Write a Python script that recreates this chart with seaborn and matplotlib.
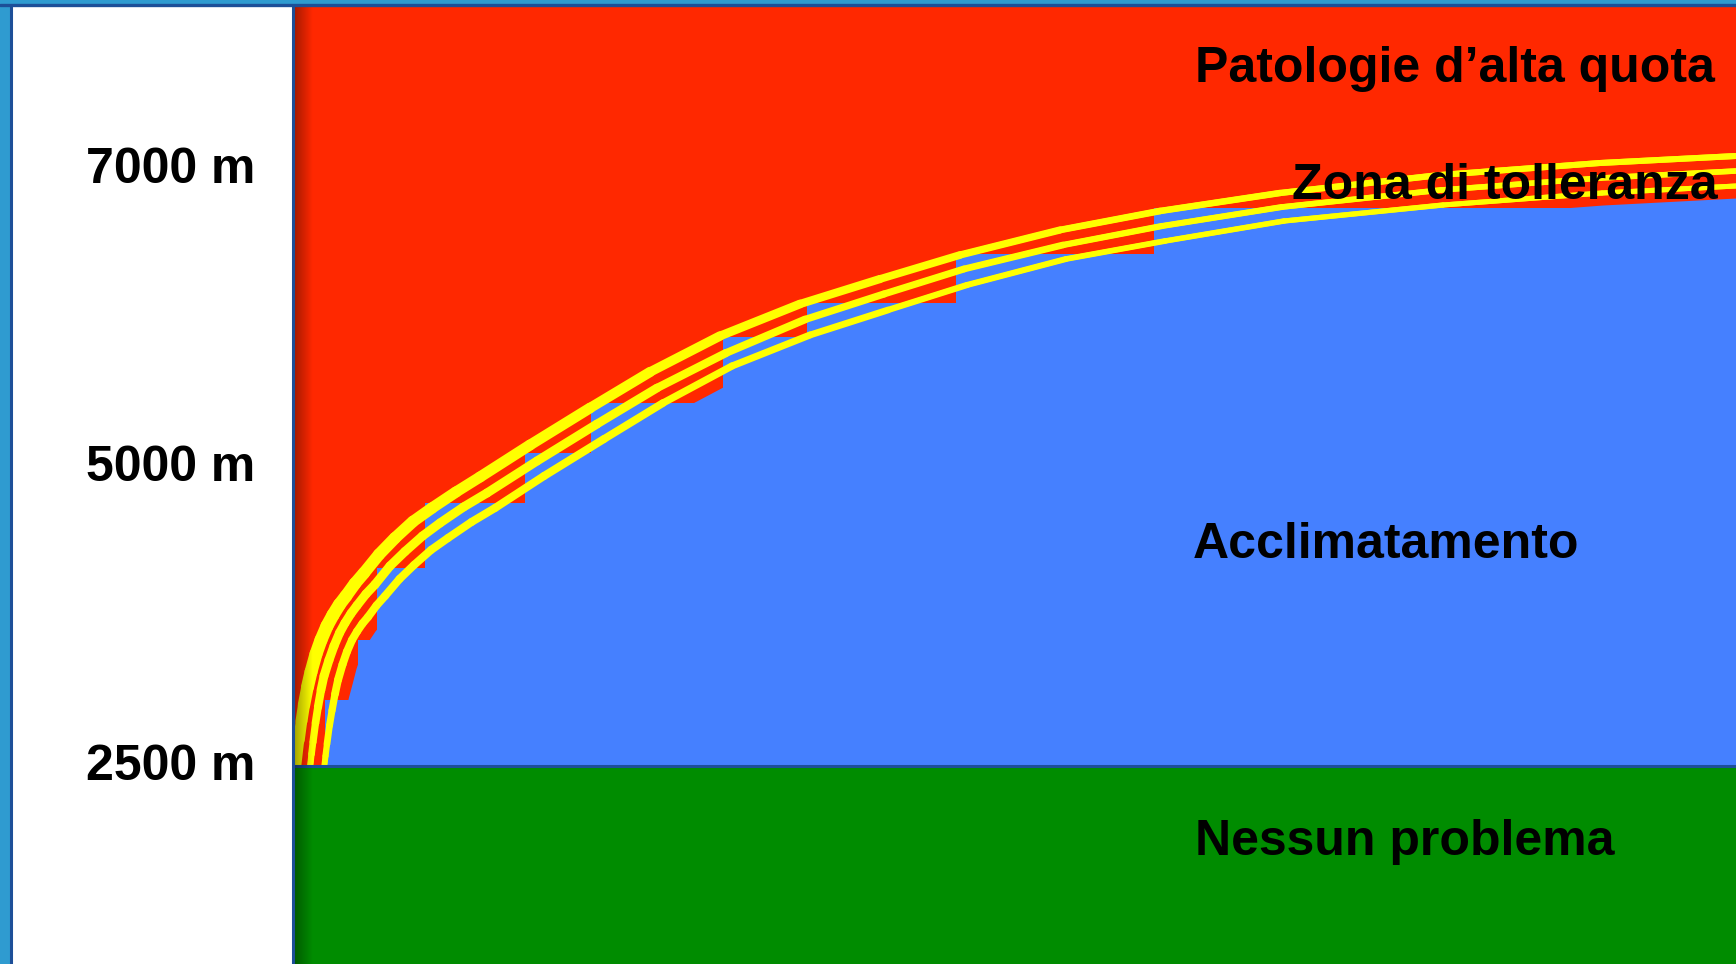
import numpy as np
import matplotlib
matplotlib.use("Agg")
import matplotlib.pyplot as plt
from matplotlib.patches import Rectangle
from matplotlib.lines import Line2D
from matplotlib.collections import LineCollection
import seaborn as sns

# Diagram units: horizontal = time spent at altitude, vertical = height above the 2500 m threshold
# Upper limit of the tolerance zone (three boundary curves) and their drawn width in pixels
t_curve1 = [3, 6, 8.5, 11, 14.5, 18, 23, 28, 34, 40, 46.5, 53, 62, 71, 86, 102, 120, 139, 163, 187,
            237, 297, 357, 427, 507, 587, 667, 767, 867, 987, 1147, 1307, 1443]
h_curve1 = [0, 26, 45, 61, 79, 94, 112, 126, 140, 151, 161.5, 170, 182.5, 193, 211.5, 228, 244.5, 258, 274, 289,
            321, 358, 394, 430, 462, 487, 511, 536, 555, 573, 591, 603, 610]
w_curve1 = [10, 11, 12, 12, 13, 13, 13, 13, 13, 13, 13, 12.5, 12.5, 12, 12, 12, 11.5, 11.5, 11, 11,
            11, 10.5, 10, 9, 8.5, 8, 7.5, 7, 6.5, 6.5, 6, 6, 6]

t_curve2 = [17, 18.5, 20, 22.5, 25, 28, 31, 36, 41, 46.5, 52, 58, 64, 73, 82, 97, 112, 129.5, 147, 170.5, 194,
            244, 304, 364, 433, 512, 591, 671, 770, 869, 989, 1148, 1308, 1443]
h_curve2 = [-2, 12, 24, 43, 59, 76, 90, 106, 120, 133, 143, 152.5, 160.5, 172, 181.5, 200, 214.5, 230, 243, 259, 273,
            305, 342, 378, 413, 446.5, 472, 497, 521, 540, 559, 576, 588, 595]
w_curve2 = [6, 6.5, 7, 7.5, 8, 8.5, 9, 9, 9, 9, 9, 9, 9, 9, 9, 9, 9, 9, 9, 9, 9,
            9, 9, 8.5, 8, 7.5, 7, 7, 6.5, 6, 6, 5.5, 5.5, 5.5]

t_curve3 = [31, 32.5, 34, 36.5, 39, 42, 45, 49.5, 54, 59, 64, 69.5, 75, 83.5, 92, 106.5, 121, 138, 155, 178.5, 202,
            251, 311, 370, 439, 517, 595, 674, 773, 872, 991, 1150, 1309, 1443]
h_curve3 = [-3, 10, 22, 40.5, 55.5, 72, 86, 101.5, 114.5, 126, 134.5, 142.5, 149, 160.5, 170, 187, 201, 216, 228, 244, 258,
            290, 327, 363, 400, 431, 456, 481, 507, 525, 545, 561, 573, 580]
w_curve3 = [6, 6, 6.5, 7, 7, 7.5, 8, 8, 8, 8, 8, 8, 8, 8, 8, 8, 8, 8, 8, 8, 8,
            8, 8, 7.5, 7, 7, 6.5, 6, 6, 5.5, 5.5, 5, 5, 5]

# Acclimatisation region: smooth lower envelope and stepped progression
t_accl = [45, 46.5, 48, 50, 52, 55.5, 59, 63, 67, 72, 77, 82, 87, 95, 103, 117, 131, 147.5, 164, 186.5, 209,
          258, 318, 377, 445, 522, 600, 678, 776, 874, 993, 1151, 1310, 1443]
h_accl = [-5, 8, 20, 38.5, 54, 69, 82, 97.5, 109.5, 120, 127.5, 135, 141, 152, 161, 177, 191, 205.5, 217, 232.5, 246,
          278, 316, 351, 387, 418, 443, 468, 493, 513, 531, 549, 561, 568]

step_edges = [32, 65, 84, 132, 232, 298, 430, 514, 663, 861, 1443]
step_tops = [66, 126, 198, 263, 313, 363, 429, 463, 512, 558]

altitude_ticks = [4, 303, 601]
altitude_labels = ["2500 m", "5000 m", "7000 m"]

zone_names = ["Patologie d’alta quota", "Zona di tolleranza", "Acclimatamento", "Nessun problema"]

RED = "#FF2800"
BLUE = "#4580FF"
GREEN = "#008C00"
YELLOW = "#FFFF00"
FRAME = "#1D4F98"
OUTER = "#2F9BD0"
PX_TO_PT = 72 / 100

sns.set_theme(style="white")
plt.rcParams["font.family"] = ["Liberation Sans", "DejaVu Sans"]

W, H = 1736, 964
fig = plt.figure(figsize=(W / 100, H / 100), dpi=100, facecolor=OUTER)

# white label panel on the left (kept behind the axes so the altitude labels stay visible)
fig.patches.append(Rectangle((12 / W, 0), (293 - 12) / W, (H - 6) / H,
                             transform=fig.transFigure, facecolor="white",
                             edgecolor="none", zorder=-2))
fig.lines.append(Line2D([11 / W, 11 / W], [0, (H - 5) / H], transform=fig.transFigure,
                        color=FRAME, lw=2.2, zorder=-1))

ax = fig.add_axes([293 / W, 0, (W - 293) / W, (H - 6) / H])
ax.set_facecolor(RED)

# acclimatisation area
ax.fill_between(t_accl, h_accl, 0, color=BLUE, linewidth=0, zorder=1)
ax.stairs(step_tops, step_edges, baseline=0, fill=True, color=BLUE, linewidth=0, zorder=1)

# tolerance boundaries: thin seaborn line plus a tapering stroke on top
for tx, hy, wd in [(t_curve1, h_curve1, w_curve1),
                   (t_curve2, h_curve2, w_curve2),
                   (t_curve3, h_curve3, w_curve3)]:
    sns.lineplot(x=tx, y=hy, ax=ax, color=YELLOW, linewidth=min(wd) * PX_TO_PT,
                 estimator=None, sort=False, legend=False, zorder=3,
                 solid_joinstyle="round")
    pts = np.column_stack([tx, hy])
    segs = np.stack([pts[:-1], pts[1:]], axis=1)
    seg_w = (np.asarray(wd[:-1]) + np.asarray(wd[1:])) / 2 * PX_TO_PT
    ax.add_collection(LineCollection(segs, linewidths=seg_w, colors=YELLOW,
                                     capstyle="round", zorder=3))

# no-problem band below the threshold
ax.axhspan(-198, 0, color=GREEN, linewidth=0, zorder=5)
ax.axhline(0, color=FRAME, lw=2.2, zorder=6)

# soft shadow along the left edge
grad = np.zeros((2, 64, 4))
grad[..., 3] = np.linspace(0.38, 0.0, 64)[None, :]
ax.imshow(grad, extent=(0, 20, -198, 760), aspect="auto", zorder=7, interpolation="bilinear")
ax.set_xlim(0, 1443)
ax.set_ylim(-198, 760)

text_style = dict(ha="left", va="baseline", fontsize=36, fontweight="bold", color="black", zorder=10)
ax.text(902, 684, zone_names[0], **text_style)
ax.text(999, 567, zone_names[1], **text_style)
ax.text(900, 208, zone_names[2], **text_style)
ax.text(902, -89, zone_names[3], **text_style)

ax.set_xticks([])
ax.set_yticks(altitude_ticks)
ax.set_yticklabels(altitude_labels, fontsize=36, fontweight="bold", color="black")
ax.tick_params(axis="y", length=0, pad=27.4, labelleft=True)
for side in ["top", "right", "bottom"]:
    ax.spines[side].set_visible(False)
ax.spines["left"].set_color(FRAME)
ax.spines["left"].set_linewidth(2.2)
ax.spines["left"].set_zorder(8)
ax.grid(False)

# top frame
fig.lines.append(Line2D([0, 1], [(H - 4.5) / H, (H - 4.5) / H], transform=fig.transFigure,
                        color=FRAME, lw=2.4, zorder=12))

fig.savefig("out.png", dpi=100, facecolor=fig.get_facecolor())
